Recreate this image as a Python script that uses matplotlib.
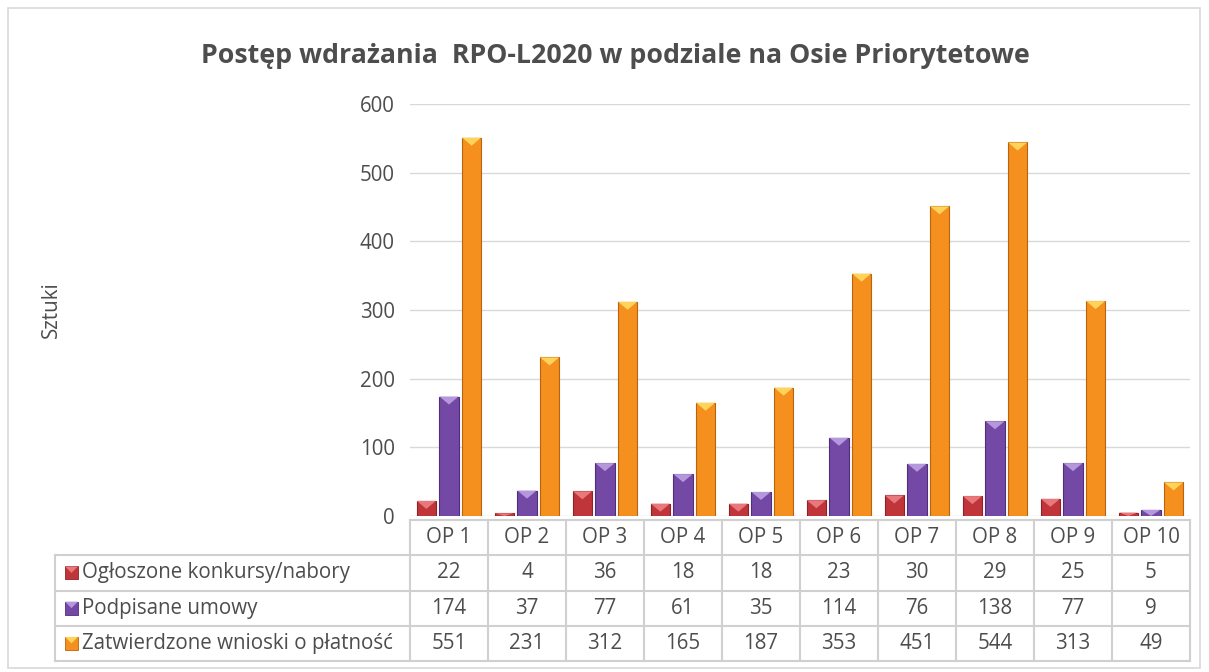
import numpy as np
import matplotlib.pyplot as plt
from matplotlib.patches import Rectangle, Polygon

plt.rcParams['font.family'] = ['Open Sans', 'DejaVu Sans']

# data
categories = ["OP 1", "OP 2", "OP 3", "OP 4", "OP 5", "OP 6", "OP 7", "OP 8", "OP 9", "OP 10"]
series_names = ["Ogłoszone konkursy/nabory", "Podpisane umowy", "Zatwierdzone wnioski o płatność"]
konkursy = [22, 4, 36, 18, 18, 23, 30, 29, 25, 5]
umowy = [174, 37, 77, 61, 35, 114, 76, 138, 77, 9]
wnioski = [551, 231, 312, 165, 187, 353, 451, 544, 313, 49]
series = [konkursy, umowy, wnioski]

base_cols = ["#C0353A", "#7449A6", "#F5901E"]
top_cols = ["#E8787C", "#B597DC", "#FFD35A"]
edge_cols = ["#8E2226", "#4F2F7A", "#B8640F"]
txt = "#4D4D4D"
fs = 14.8

W, H = 1209, 672
fig = plt.figure(figsize=(W / 100, H / 100), dpi=100)

# outer frame
fig.patches.append(Rectangle((8 / W, 4 / H), 1192 / W, 660 / H, transform=fig.transFigure,
                             fill=False, edgecolor="#D9D9D9", linewidth=1.2))

ax_l, ax_r, ax_t, ax_b = 410, 1190, 104, 516
ax = fig.add_axes([ax_l / W, 1 - ax_b / H, (ax_r - ax_l) / W, (ax_b - ax_t) / H])
ax.set_xlim(-0.5, 9.5)
ax.set_ylim(0, 600)
ax.set_yticks(range(0, 601, 100))
ax.tick_params(axis="y", length=0, labelsize=fs, labelcolor=txt, pad=11)
ax.set_xticks([])
for s in ax.spines.values():
    s.set_visible(False)
ax.grid(axis="y", color="#D9D9D9", linewidth=1)
ax.set_axisbelow(True)

x = np.arange(len(categories))
offsets = [-0.29, 0.0, 0.29]
bw = 0.245
px_per_x = (ax_r - ax_l) / 10
data_per_py = 600 / (ax_b - ax_t)
for vals, off, bc, tc, ec in zip(series, offsets, base_cols, top_cols, edge_cols):
    bars = ax.bar(x + off, vals, width=bw, color=bc, edgecolor=ec, linewidth=0.8, zorder=3)
    for b in bars:
        bx, bh, bwid = b.get_x(), b.get_height(), b.get_width()
        depth = min(bh, bwid * px_per_x * 0.42 * data_per_py)
        ax.add_patch(Polygon([(bx, bh), (bx + bwid, bh), (bx + bwid / 2, bh - depth)],
                             closed=True, facecolor=tc, edgecolor="none", zorder=4))

ax.set_ylabel("Sztuki", fontsize=fs, color=txt)
ax.yaxis.set_label_coords(-(ax_l - 62) / (ax_r - ax_l), 0.5)
ax.yaxis.label.set_horizontalalignment("center")

fig.text(615 / W, 1 - 56 / H, "Postęp wdrażania  RPO-L2020 w podziale na Osie Priorytetowe",
         ha="center", va="center", fontsize=19.3, fontweight="bold", color=txt)

# data table
tl, tr, tt, tb = 55, 1190, 520, 661
tab = fig.add_axes([tl / W, 1 - tb / H, (tr - tl) / W, (tb - tt) / H])
x0 = -0.5 - (ax_l - tl) / px_per_x
tab.set_xlim(x0, 9.5)
tab.set_ylim(4, 0)
tab.axis("off")
lc = "#D0D0D0"
lw = 1.5
# horizontal lines
tab.plot([-0.5, 9.5], [0, 0], color=lc, lw=lw, clip_on=False)
for yy in [1, 2, 3, 4]:
    tab.plot([x0, 9.5], [yy, yy], color=lc, lw=lw, clip_on=False)
# vertical lines
tab.plot([x0, x0], [1, 4], color=lc, lw=lw, clip_on=False)
for i in range(11):
    tab.plot([i - 0.5, i - 0.5], [0, 4], color=lc, lw=lw, clip_on=False)

for i, c in enumerate(categories):
    tab.text(i, 0.5, c, ha="center", va="center", fontsize=fs, color=txt)
for r, (name, vals) in enumerate(zip(series_names, series)):
    yy = r + 1.5
    mx = x0 + 10 / px_per_x
    ms = 13 / px_per_x
    msy = 13 / 35.25
    tab.add_patch(Rectangle((mx, yy - msy / 2), ms, msy, facecolor=base_cols[r],
                            edgecolor=edge_cols[r], lw=0.6, clip_on=False))
    tab.add_patch(Polygon([(mx, yy - msy / 2), (mx + ms, yy - msy / 2), (mx + ms / 2, yy)],
                          facecolor=top_cols[r], edgecolor="none", clip_on=False))
    tab.text(x0 + 27 / px_per_x, yy, name, ha="left", va="center", fontsize=fs, color=txt)
    for i, v in enumerate(vals):
        tab.text(i, yy, str(v), ha="center", va="center", fontsize=fs, color=txt)

fig.savefig("out.png", dpi=100)
